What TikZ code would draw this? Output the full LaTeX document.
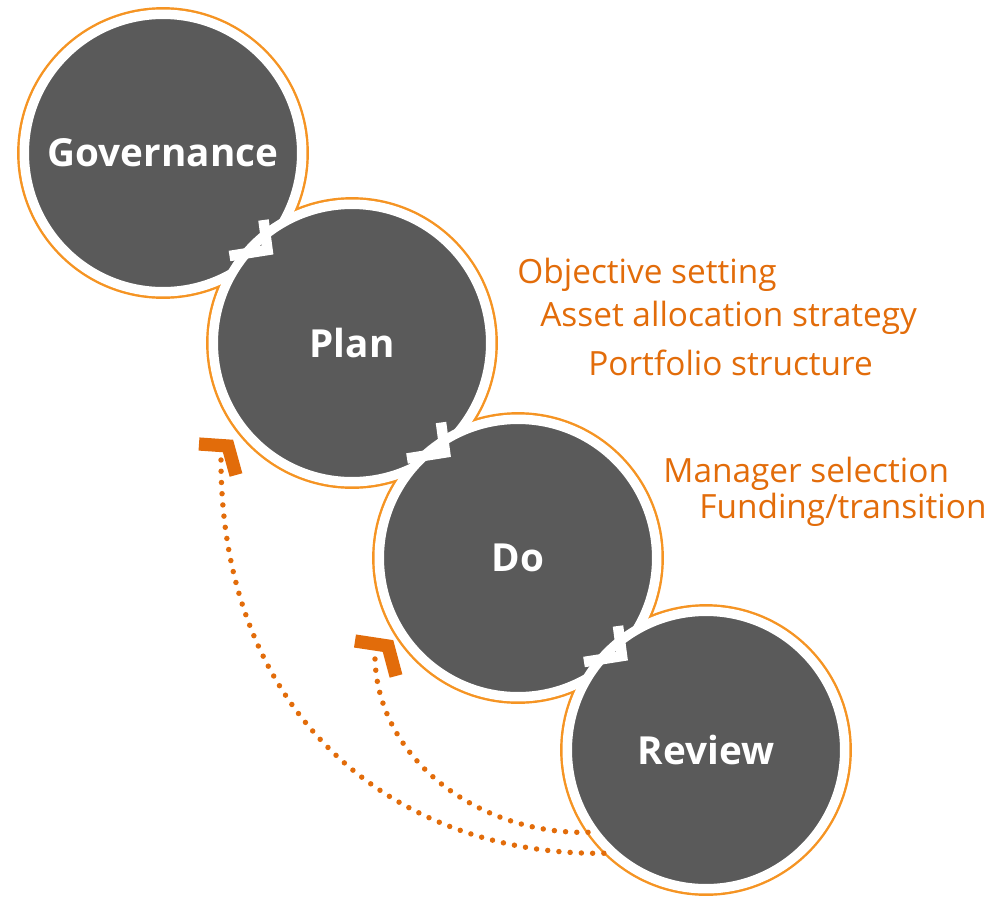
\documentclass[tikz,border=0pt]{standalone}
\usepackage{fontspec}
\setmainfont{Open Sans}
\usetikzlibrary{calc}
\definecolor{ringorange}{RGB}{245,148,35}
\definecolor{deeporange}{RGB}{226,108,10}
\definecolor{stagegray}{RGB}{90,90,90}
\begin{document}
\begin{tikzpicture}[x=0.02cm,y=-0.02cm,
  stage/.style={circle,fill=stagegray,draw=white,line width=5.4pt,minimum size=5.55cm,inner sep=0pt,text=white,font=\bfseries\fontsize{22}{26}\selectfont},
  ring/.style={draw=ringorange,line width=1.6pt},
  notch/.style={draw=white,line width=6pt},
  barb/.style={draw=deeporange,line width=7.5pt},
  trail/.style={draw=deeporange,line width=3.1pt,line cap=round,dash pattern=on 0pt off 6.4pt},
  task text/.style={text=deeporange,anchor=base west,inner sep=0pt,font=\fontsize{19}{22}\selectfont}]

  \useasboundingbox (0,0) rectangle (990,896);

  % centres of the four stages
  \coordinate (g) at (163,153);
  \coordinate (p) at (352,343);
  \coordinate (d) at (518,558);
  \coordinate (r) at (706,750);

  \foreach \c in {g,p,d,r}
    \draw[ring] (\c) circle (144.5);

  \node[stage] (Gov) at (g) {Governance};
  \node[stage] (Plan) at (p) {Plan};
  \node[stage] (Do) at (d) {Do};
  \node[stage] (Rev) at (r) {Review};

  % white notches where the stages meet
  \foreach \a/\b in {Gov/Plan,Plan/Do,Do/Rev}
    \draw[notch] ($(\a)!0.5!(\b)+(6,-28)$) -- ($(\a)!0.5!(\b)+(10,2)$) -- ($(\a)!0.5!(\b)+(-28,8)$);

  % feedback loops
  \coordinate (back1) at (221,460);
  \coordinate (back2) at (375,659);
  \draw[trail] (back1) .. controls (221,720) and (400,857) .. (Rev.226);
  \draw[trail] (back2) .. controls (378,760) and (480,835) .. (Rev.215);
  \draw[barb] (199,444) -- (228,446) -- (236,475);
  \draw[barb] (355,641) -- (388,646) -- (396,676);

  \node[task text] (obj) at (517,283) {Objective setting};
  \node[task text] (alloc) at (540,326) {Asset allocation strategy};
  \node[task text] (port) at (588,375) {Portfolio structure};
  \node[task text] (mgr) at (663,482) {Manager selection};
  \node[task text] (fund) at (699,518) {Funding/transition};
\end{tikzpicture}
\end{document}
